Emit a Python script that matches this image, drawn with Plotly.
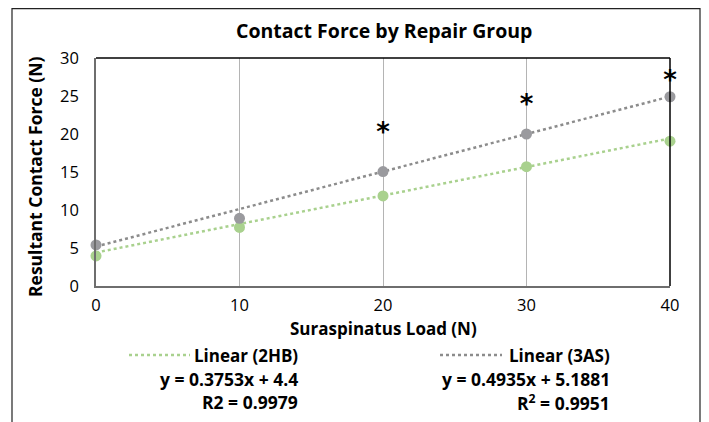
import plotly.graph_objects as go

# ---- data ----
load = [0, 10, 20, 30, 40]
force_2hb = [3.95, 7.7, 11.85, 15.7, 19.05]
force_3as = [5.4, 8.9, 15.05, 20.0, 24.9]
trend_2hb = {"slope": 0.3753, "intercept": 4.4, "r2": "0.9979"}
trend_3as = {"slope": 0.4935, "intercept": 5.1881, "r2": "0.9951"}
star_x = [20, 30, 40]
star_y = [20.0, 23.6, 26.8]
x_ticks = [0, 10, 20, 30, 40]
y_ticks = [0, 5, 10, 15, 20, 25, 30]

GREEN = "#a9d18e"
GRAY_M = "#9a9a9e"
GRAY_L = "#8c8c8c"
FONT = "Open Sans"

fig = go.Figure()

x_range = [min(load), max(load)]
for tr, col, name in [(trend_2hb, GREEN, "Linear (2HB)"), (trend_3as, GRAY_L, "Linear (3AS)")]:
    fig.add_trace(go.Scatter(
        x=x_range, y=[tr["slope"] * x + tr["intercept"] for x in x_range],
        mode="lines", line=dict(color=col, width=2.5, dash="dot"),
        name=name, showlegend=False, hoverinfo="skip"))

fig.add_trace(go.Scatter(x=load, y=force_2hb, mode="markers", cliponaxis=False,
                         marker=dict(color=GREEN, size=11), name="2HB", showlegend=False))
fig.add_trace(go.Scatter(x=load, y=force_3as, mode="markers", cliponaxis=False,
                         marker=dict(color=GRAY_M, size=11), name="3AS", showlegend=False))
fig.add_trace(go.Scatter(x=star_x, y=star_y, mode="text", text=["*"] * len(star_x), cliponaxis=False,
                         textfont=dict(family="DejaVu Sans", size=26, color="black", weight="bold"),
                         textposition="middle center", showlegend=False, hoverinfo="skip"))

# screen-space layout (browser page adds an 8px body margin)
OFF = 8
W, H = 709 - OFF, 422 - OFF
L, R, T, B = 96 - OFF, 670 - OFF, 58 - OFF, 286 - OFF
pw, ph = R - L, B - T

def px(x):
    return (x - OFF - L) / pw

def py(y):
    return (B - (y - OFF)) / ph

fig.update_layout(
    width=W, height=H,
    margin=dict(l=L, r=W - R, t=T, b=H - B, pad=0),
    paper_bgcolor="white", plot_bgcolor="white",
    font=dict(family=FONT, color="black"),
    xaxis=dict(range=[0, 40], tickvals=x_ticks, showgrid=True, gridcolor="#b4b4b4", gridwidth=1,
               zeroline=False, showline=True, linecolor="#6e6e6e", linewidth=1.5,
               ticks="", tickfont=dict(size=16.5, family=FONT), ticklabelstandoff=3),
    yaxis=dict(range=[0, 30], tickvals=y_ticks, showgrid=False, zeroline=False,
               showline=True, linecolor="#6e6e6e", linewidth=1.5,
               ticks="", tickfont=dict(size=16.5, family=FONT), ticklabelstandoff=12),
    showlegend=False,
)

shapes = [
    dict(type="line", xref="paper", yref="paper", x0=0, x1=1, y0=1, y1=1,
         line=dict(color="black", width=1.5)),
    dict(type="line", xref="paper", yref="paper", x0=1, x1=1, y0=0, y1=1,
         line=dict(color="black", width=1.5)),
    dict(type="rect", xref="paper", yref="paper", x0=px(12), x1=px(700), y0=py(440), y1=py(8.7),
         line=dict(color="#222222", width=1.2), fillcolor="rgba(0,0,0,0)", layer="below"),
    dict(type="line", xref="paper", yref="paper", x0=px(129), x1=px(190), y0=py(355), y1=py(355),
         line=dict(color=GREEN, width=2.5, dash="dot")),
    dict(type="line", xref="paper", yref="paper", x0=px(440), x1=px(502), y0=py(355), y1=py(355),
         line=dict(color=GRAY_L, width=2.5, dash="dot")),
]
fig.update_layout(shapes=shapes)

def ann(text, x, y, size, bold=True, xanchor="center", angle=0):
    return dict(text=f"<b>{text}</b>" if bold else text, x=px(x), y=py(y), xref="paper", yref="paper",
                showarrow=False, xanchor=xanchor, yanchor="middle", textangle=angle,
                font=dict(family=FONT, size=size, color="black"))

annotations = [
    ann("Contact Force by Repair Group", 384, 30, 19.5),
    ann("Resultant Contact Force (N)", 35, 177, 17.5, angle=-90),
    ann("Suraspinatus Load (N)", 383, 328, 17),
    ann("Linear (2HB)", 300, 355, 17, xanchor="right"),
    ann(f"y = {trend_2hb['slope']}x + {trend_2hb['intercept']}", 300, 379, 17.5, xanchor="right"),
    ann(f"R2 = {trend_2hb['r2']}", 300, 402, 17.5, xanchor="right"),
    ann("Linear (3AS)", 612, 355, 17, xanchor="right"),
    ann(f"y = {trend_3as['slope']}x + {trend_3as['intercept']}", 612, 379, 17.5, xanchor="right"),
    ann(f"R<sup>2</sup> = {trend_3as['r2']}", 612, 402, 17.5, xanchor="right"),
]
fig.update_layout(annotations=annotations)

fig.write_html("out.html")
